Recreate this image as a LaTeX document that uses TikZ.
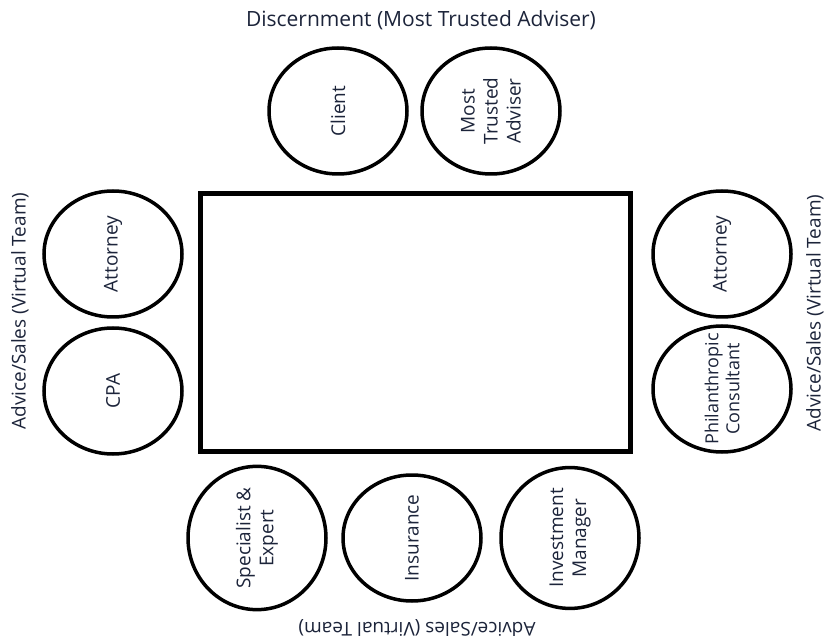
\documentclass[tikz,border=0pt]{standalone}
\usepackage{fontspec}
\setmainfont{Open Sans}
\usepackage{tikz}
\usetikzlibrary{shapes.geometric}
\definecolor{labelink}{RGB}{28,36,58}

\begin{document}
\begin{tikzpicture}[x=1pt, y=-1pt,
    seat/.style={ellipse, draw, line width=3.5pt, minimum width=126pt, minimum height=138pt,
      inner sep=0pt, text=labelink, font=\fontsize{19}{23}\selectfont, align=center, rotate=90},
    side/.style={text=labelink, font=\fontsize{19}{22}\selectfont}]
        % Page
        \useasboundingbox (0,0) rectangle (825,636);

        % Table
        \draw[line width=5pt] (200,194) rectangle (630,451);

        % Top: discernment
        \node[side, font=\fontsize{21}{24}\selectfont] (disc) at (421,20) {Discernment (Most Trusted Adviser)};
        \node[seat] (client) at (338,111) {Client};
        \node[seat] (mta) at (491,111) {Most\\Trusted\\Adviser};

        % Left side
        \node[side, rotate=90] (lefttxt) at (20,311) {Advice/Sales (Virtual Team)};
        \node[seat] (attl) at (113,254) {Attorney};
        \node[seat] (cpa) at (113,391) {CPA};

        % Right side
        \node[side, rotate=90] (righttxt) at (815,313) {Advice/Sales (Virtual Team)};
        \node[seat] (attr) at (722,254) {Attorney};
        \node[seat, inner sep=-30pt, font=\fontsize{18}{21}\selectfont] (phil) at (722,389) {Philanthropic\\Consultant};

        % Bottom
        \node[seat] (spec) at (257,538) {Specialist \&\\Expert};
        \node[seat] (ins) at (412,538) {Insurance};
        \node[seat] (inv) at (570,538) {Investment\\Manager};
        \node[side, rotate=180] (bottxt) at (417,628) {Advice/Sales (Virtual Team)};
    \end{tikzpicture}
\end{document}
